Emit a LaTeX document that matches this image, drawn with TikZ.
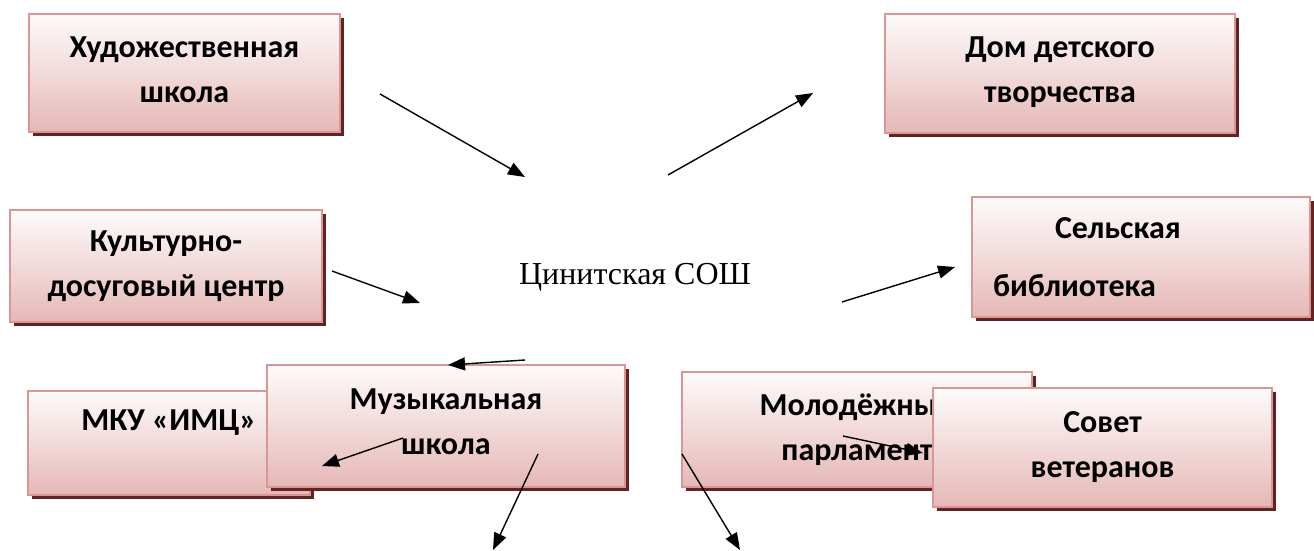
\documentclass[tikz,border=0pt]{standalone}
\usepackage{fontspec}
\setmainfont{Liberation Serif}
\newfontfamily\boxfont{Carlito}
\usetikzlibrary{arrows.meta,shadows}
\definecolor{bordercol}{HTML}{D99694}
\definecolor{shadowcol}{HTML}{622423}
\definecolor{gradtop}{HTML}{FEFBFB}
\definecolor{gradmid}{HTML}{F3E1E1}
\definecolor{gradbot}{HTML}{E5B8B7}
\begin{document}
\begin{tikzpicture}[x=1pt,y=-1pt,
  orgbox/.style={draw=bordercol, line width=2pt,
    top color=gradtop, middle color=gradmid, bottom color=gradbot,
    general shadow={fill=shadowcol, shadow xshift=4pt, shadow yshift=-4pt},
    font=\boxfont\bfseries\fontsize{32}{45}\selectfont,
    align=center, inner sep=0pt},
  link/.style={line width=1.4pt, -{Triangle[length=17pt,width=13pt]}}]
\useasboundingbox (0,0) rectangle (1314,551);

% boxes
\node[orgbox, minimum width=311pt, minimum height=118pt] (art) at (184.5,73) {Художественная\\школа\\[-38pt]\mbox{}};
\node[orgbox, minimum width=350pt, minimum height=119pt] (ddt) at (1060,73.5) {Дом детского\\творчества\\[-38pt]\mbox{}};
\node[orgbox, minimum width=312pt, minimum height=112pt] (kdc) at (166,266) {Культурно-\\досуговый центр};
\node[orgbox, align=left, text width=296pt, minimum width=338pt, minimum height=120pt] (lib) at (1141,257) {\hspace*{62pt}Сельская\\[13pt]библиотека};
\node[orgbox, minimum width=282pt, minimum height=104pt] (imc) at (169,443) {МКУ «ИМЦ»\\\mbox{}};
\node[orgbox, minimum width=358pt, minimum height=122pt] (mus) at (446,426) {Музыкальная\\школа\\[-36pt]\mbox{}};
\node[orgbox, minimum width=350pt, minimum height=115pt] (par) at (857,429.5) {Молодёжный\\парламент};
\node[orgbox, minimum width=339pt, minimum height=119pt] (vet) at (1102.5,447.5) {Совет\\ветеранов};

% centre
\node[font=\fontsize{32}{36}\selectfont] (school) at (635,277) {Цинитская СОШ};

% arrow end points
\coordinate (a1s) at (380,94);  \coordinate (a1e) at (525,177);
\coordinate (a2s) at (668,175); \coordinate (a2e) at (813,93);
\coordinate (a3s) at (332,271); \coordinate (a3e) at (420,303);
\coordinate (a4s) at (842,302); \coordinate (a4e) at (955,267);
\coordinate (a5s) at (525,360); \coordinate (a5e) at (448,365);
\coordinate (a6s) at (403,438); \coordinate (a6e) at (322,466);
\coordinate (a7s) at (538,454); \coordinate (a7e) at (493,550);
\coordinate (a8s) at (682,454); \coordinate (a8e) at (740,550);
\coordinate (a9s) at (843,436); \coordinate (a9e) at (923,453);

\draw[link] (a1s) -- (a1e);
\draw[link] (a2s) -- (a2e);
\draw[link] (a3s) -- (a3e);
\draw[link] (a4s) -- (a4e);
\draw[link] (a5s) -- (a5e);
\draw[link] (a6s) -- (a6e);
\draw[link] (a7s) -- (a7e);
\draw[link] (a8s) -- (a8e);
\draw[link] (a9s) -- (a9e);
\end{tikzpicture}
\end{document}
